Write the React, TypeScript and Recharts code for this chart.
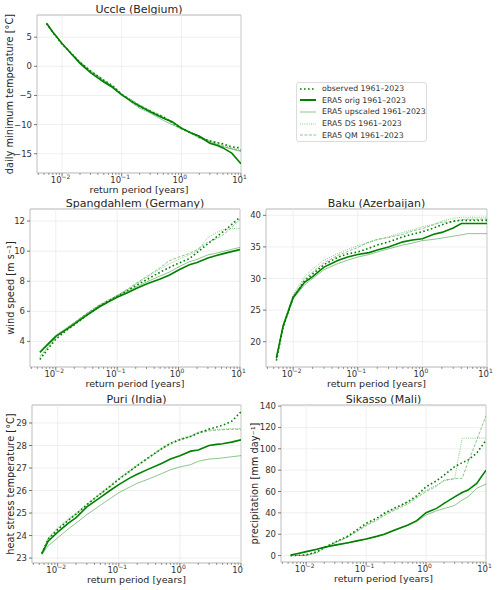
import {
  LineChart,
  Line,
  XAxis,
  YAxis,
  CartesianGrid,
  ReferenceLine,
  ReferenceArea,
} from "recharts";

// return periods [years] shared by every panel
const returnPeriods = [0.0055, 0.007, 0.01, 0.015, 0.02, 0.03, 0.05, 0.07, 0.1, 0.15, 0.2, 0.3, 0.5, 0.7, 1, 1.5, 2, 3, 4, 5, 7, 10];

// Uccle (Belgium) - daily minimum temperature
const uccleObserved = [7.3, 5.8, 3.8, 2.0, 0.7, -0.8, -2.4, -3.3, -4.8, -6.0, -6.9, -7.7, -8.7, -9.6, -10.6, -11.5, -12.2, -12.8, -13.1, -13.3, -13.8, -14.0];
const uccleOrig = [7.4, 5.9, 3.9, 1.9, 0.5, -1.1, -2.7, -3.6, -4.9, -6.1, -6.8, -7.8, -8.9, -9.5, -10.6, -11.5, -12.0, -13.2, -13.6, -14.0, -14.9, -16.7];
const uccleUpscaled = [7.4, 5.9, 3.9, 2.0, 0.6, -0.9, -2.5, -3.4, -4.8, -6.3, -7.2, -8.0, -9.3, -10.0, -10.7, -11.4, -11.9, -12.9, -13.4, -13.8, -14.2, -14.6];
const uccleDS = [7.3, 5.8, 3.8, 2.0, 0.8, -0.7, -2.3, -3.4, -4.7, -6.0, -7.0, -7.5, -8.6, -9.4, -10.5, -11.4, -12.1, -12.7, -13.1, -13.5, -14.0, -14.3];
const uccleQM = [7.3, 5.8, 3.9, 2.1, 0.7, -0.8, -2.4, -3.5, -4.8, -5.8, -6.6, -7.6, -8.8, -9.8, -10.8, -11.6, -12.3, -13.0, -13.4, -13.7, -14.1, -14.5];

// Spangdahlem (Germany) - wind speed
const spangObserved = [2.8, 3.35, 4.15, 4.75, 5.1, 5.65, 6.3, 6.65, 7.0, 7.4, 7.7, 8.1, 8.6, 8.9, 9.2, 9.5, 9.9, 10.5, 10.9, 11.2, 11.7, 12.25];
const spangOrig = [3.27, 3.7, 4.33, 4.8, 5.15, 5.67, 6.27, 6.6, 6.93, 7.25, 7.5, 7.82, 8.15, 8.4, 8.75, 9.1, 9.25, 9.55, 9.7, 9.8, 9.95, 10.1];
const spangUpscaled = [3.3, 3.75, 4.4, 4.9, 5.25, 5.75, 6.35, 6.65, 7.0, 7.35, 7.6, 7.95, 8.35, 8.6, 8.95, 9.3, 9.45, 9.75, 9.85, 9.95, 10.1, 10.25];
const spangDS = [2.9, 3.45, 4.25, 4.85, 5.2, 5.75, 6.4, 6.75, 7.05, 7.45, 7.8, 8.25, 8.8, 9.15, 9.45, 9.75, 10.0, 10.9, 11.2, 11.4, 11.5, 11.5];
const spangQM = [3.0, 3.5, 4.3, 4.85, 5.25, 5.8, 6.4, 6.7, 7.05, 7.5, 7.85, 8.3, 8.9, 9.35, 9.6, 9.85, 10.1, 10.6, 10.8, 11.0, 11.5, 12.1];

// Baku (Azerbaijan)
const bakuObserved = [17.0, 22.3, 27.0, 29.6, 30.7, 32.2, 33.4, 33.9, 34.2, 34.8, 35.3, 35.8, 36.6, 37.0, 37.4, 38.0, 38.5, 39.1, 39.2, 39.2, 39.2, 39.2];
const bakuOrig = [17.4, 22.5, 27.0, 29.4, 30.3, 31.8, 32.9, 33.4, 33.8, 34.1, 34.5, 35.0, 35.8, 36.1, 36.3, 37.0, 37.3, 38.0, 38.7, 38.7, 38.7, 38.7];
const bakuUpscaled = [17.6, 22.4, 26.8, 29.0, 30.0, 31.4, 32.4, 32.9, 33.4, 33.8, 34.2, 34.7, 35.3, 35.6, 36.0, 36.2, 36.4, 36.7, 36.9, 37.1, 37.1, 37.1];
const bakuDS = [17.3, 22.8, 27.5, 30.3, 31.5, 32.9, 34.0, 34.6, 35.2, 35.7, 36.1, 36.6, 37.3, 37.7, 38.2, 38.6, 39.1, 39.5, 39.7, 39.7, 39.7, 39.7];
const bakuQM = [17.3, 22.6, 27.2, 29.9, 31.0, 32.5, 33.7, 34.3, 34.9, 35.8, 36.2, 36.5, 37.0, 37.5, 37.9, 38.5, 38.9, 39.0, 39.3, 39.4, 39.4, 39.4];

// Puri (India) - heat stress temperature
const puriObserved = [23.2, 23.85, 24.26, 24.68, 24.95, 25.37, 25.85, 26.15, 26.5, 26.85, 27.1, 27.45, 27.85, 28.1, 28.26, 28.4, 28.55, 28.73, 28.82, 28.9, 29.07, 29.5];
const puriOrig = [23.2, 23.75, 24.15, 24.55, 24.8, 25.27, 25.7, 25.98, 26.26, 26.55, 26.72, 26.94, 27.2, 27.4, 27.55, 27.75, 27.8, 28.0, 28.05, 28.08, 28.15, 28.25];
const puriUpscaled = [23.15, 23.55, 23.9, 24.3, 24.55, 24.93, 25.35, 25.62, 25.9, 26.15, 26.32, 26.5, 26.75, 26.92, 27.05, 27.15, 27.3, 27.4, 27.42, 27.45, 27.5, 27.55];
const puriDS = [23.25, 23.9, 24.35, 24.75, 25.0, 25.4, 25.9, 26.2, 26.55, 26.9, 27.15, 27.45, 27.9, 28.1, 28.3, 28.45, 28.6, 28.7, 28.72, 28.73, 28.75, 28.75];
const puriQM = [23.2, 23.85, 24.3, 24.7, 24.95, 25.35, 25.85, 26.15, 26.5, 26.85, 27.1, 27.4, 27.85, 28.05, 28.25, 28.4, 28.55, 28.65, 28.68, 28.7, 28.72, 28.72];

// Sikasso (Mali) - precipitation
const sikassoObserved = [0, 0.2, 0.6, 3.5, 7.5, 12.5, 18.4, 24.0, 30.2, 35.0, 39.6, 44.5, 50.5, 56.0, 64.5, 70.0, 75.4, 83.2, 87.0, 89.4, 96.0, 108.0];
const sikassoOrig = [0.6, 1.8, 3.7, 5.9, 7.8, 9.8, 12.1, 13.8, 15.6, 18.0, 19.9, 24.0, 28.7, 32.7, 40.2, 44.2, 48.9, 55.0, 59.0, 61.4, 67.6, 80.0];
const sikassoUpscaled = [0.5, 1.6, 3.5, 5.7, 7.6, 9.6, 11.9, 13.6, 15.4, 17.8, 19.7, 23.5, 28.5, 32.0, 38.0, 42.0, 44.0, 47.0, 52.0, 55.0, 63.0, 67.0];
const sikassoDS = [0, 0.1, 0.2, 2.5, 6.5, 12.0, 17.5, 23.0, 28.7, 34.0, 38.5, 43.5, 50.0, 55.0, 61.4, 66.0, 70.0, 72.0, 110.0, 110.0, 110.0, 110.0];
const sikassoQM = [0, 0.1, 0.3, 3.0, 7.0, 12.0, 17.5, 22.5, 28.0, 33.0, 37.5, 42.5, 48.5, 54.0, 60.0, 65.0, 70.7, 72.0, 72.3, 87.0, 108.0, 131.0];

const X_MIN = 0.0038;
const X_MAX = 10;
const majorTicks = [0.01, 0.1, 1, 10];
const minorTicks: number[] = [];
[0.001, 0.01, 0.1, 1].forEach((d) => {
  for (let m = 2; m <= 9; m++) {
    const v = +(m * d).toPrecision(3);
    if (v >= X_MIN && v <= X_MAX) minorTicks.push(v);
  }
});

const GREEN = "#008000";
const FONT = '"DejaVu Sans", sans-serif';
const TEXT = "#262626";

const seriesStyles = [
  { key: "obs", name: "observed 1961–2023", width: 1.6, dash: "1.6 2.4", opacity: 1 },
  { key: "orig", name: "ERA5 orig 1961–2023", width: 1.6, dash: undefined, opacity: 1 },
  { key: "up", name: "ERA5 upscaled 1961–2023", width: 0.9, dash: undefined, opacity: 0.5 },
  { key: "ds", name: "ERA5 DS 1961–2023", width: 0.9, dash: "1 1.2", opacity: 0.5 },
  { key: "qm", name: "ERA5 QM 1961–2023", width: 0.9, dash: "3 1.5", opacity: 0.5 },
];

const panels = [
  {
    title: "Uccle (Belgium)", yLabel: "daily minimum temperature [°C]",
    series: [uccleObserved, uccleOrig, uccleUpscaled, uccleDS, uccleQM],
    yDomain: [-18.3, 8.8], yTicks: [-15, -10, -5, 0, 5],
    chartLeft: 0, plotLeft: 37, plotRight: 241, plotTop: 15, plotBottom: 173, rightPad: 9, labelOffset: 9.5,
  },
  {
    title: "Spangdahlem (Germany)", yLabel: "wind speed [m s⁻¹]",
    series: [spangObserved, spangOrig, spangUpscaled, spangDS, spangQM],
    yDomain: [2.3, 12.8], yTicks: [4, 6, 8, 10, 12],
    chartLeft: 0, plotLeft: 30, plotRight: 240, plotTop: 209, plotBottom: 367, rightPad: 10, labelOffset: 11,
  },
  {
    title: "Baku (Azerbaijan)", yLabel: "",
    series: [bakuObserved, bakuOrig, bakuUpscaled, bakuDS, bakuQM],
    yDomain: [16, 41], yTicks: [20, 25, 30, 35, 40],
    chartLeft: 249, plotLeft: 266, plotRight: 487, plotTop: 209, plotBottom: 367, rightPad: 13, labelOffset: 0,
  },
  {
    title: "Puri (India)", yLabel: "heat stress temperature [°C]",
    series: [puriObserved, puriOrig, puriUpscaled, puriDS, puriQM],
    yDomain: [22.78, 29.8], yTicks: [23, 24, 25, 26, 27, 28, 29],
    chartLeft: 0, plotLeft: 32, plotRight: 241, plotTop: 405, plotBottom: 563, rightPad: 3, labelOffset: 11,
  },
  {
    title: "Sikasso (Mali)", yLabel: "precipitation [mm day⁻¹]",
    series: [sikassoObserved, sikassoOrig, sikassoUpscaled, sikassoDS, sikassoQM],
    yDomain: [-6, 141], yTicks: [0, 20, 40, 60, 80, 100, 120, 140],
    chartLeft: 250, plotLeft: 281, plotRight: 486, plotTop: 405, plotBottom: 562, rightPad: 14, labelOffset: 5,
  },
];

function LogTick(props: any) {
  const { x, y, payload } = props;
  const lg = Math.log10(payload.value);
  const exp = Math.round(lg);
  if (Math.abs(lg - exp) > 1e-6) {
    return <line x1={x} x2={x} y1={y} y2={y + 2} stroke="#555" strokeWidth={0.6} />;
  }
  const sup = exp < 0 ? `−${-exp}` : `${exp}`;
  return (
    <g>
      <line x1={x} x2={x} y1={y} y2={y + 3.5} stroke="#555" strokeWidth={0.8} />
      <text x={x - 1.5} y={y + 9.5} textAnchor="middle" fontSize={8.5} fill="#333">
        10<tspan dy={-3.6} fontSize={6}>{sup}</tspan>
      </text>
    </g>
  );
}

function Panel({ cfg }: { cfg: (typeof panels)[number] }) {
  const data = returnPeriods.map((rp, i) => {
    const row: Record<string, number> = { rp };
    seriesStyles.forEach((s, k) => (row[s.key] = cfg.series[k][i]));
    return row;
  });
  const marginTop = 4;
  const xAxisH = 23;
  const yAxisW = cfg.plotLeft - cfg.chartLeft;
  const width = cfg.plotRight - cfg.chartLeft + cfg.rightPad;
  const height = marginTop + (cfg.plotBottom - cfg.plotTop) + xAxisH;

  return (
    <>
      <div
        style={{
          position: "absolute",
          left: cfg.plotLeft,
          width: cfg.plotRight - cfg.plotLeft,
          top: cfg.plotTop - 11.5,
          textAlign: "center",
          fontSize: 11,
          lineHeight: 1,
          color: TEXT,
        }}
      >
        {cfg.title}
      </div>
      <div style={{ position: "absolute", left: cfg.chartLeft, top: cfg.plotTop - marginTop }}>
        <LineChart
          width={width}
          height={height}
          data={data}
          margin={{ top: marginTop, right: cfg.rightPad, left: 0, bottom: 0 }}
        >
          <CartesianGrid vertical={false} stroke="#ebebeb" strokeWidth={0.8} />
          {majorTicks.map((t) => (
            <ReferenceLine key={t} x={t} stroke="#ebebeb" strokeWidth={0.8} />
          ))}
          <XAxis
            dataKey="rp"
            type="number"
            scale="log"
            domain={[X_MIN, X_MAX]}
            allowDataOverflow
            ticks={[...minorTicks, ...majorTicks]}
            interval={0}
            tick={<LogTick />}
            tickLine={false}
            axisLine={false}
            tickSize={0}
            tickMargin={0}
            height={xAxisH}
            label={{ value: "return period [years]", position: "insideBottom", offset: 3, fontSize: 9.5, fill: TEXT }}
          />
          <YAxis
            type="number"
            domain={cfg.yDomain}
            allowDataOverflow
            ticks={cfg.yTicks}
            interval={0}
            width={yAxisW}
            axisLine={false}
            tickSize={3}
            tickMargin={2}
            tickLine={{ stroke: "#555", strokeWidth: 0.8 }}
            tick={{ fontSize: 8.5, fill: "#333" }}
            tickFormatter={(v: number) => String(v).replace("-", "−")}
            label={
              cfg.yLabel
                ? {
                    value: cfg.yLabel,
                    angle: -90,
                    position: "insideLeft",
                    offset: cfg.labelOffset,
                    fontSize: 9.8,
                    fill: TEXT,
                    style: { textAnchor: "middle" },
                  }
                : undefined
            }
          />
          <ReferenceArea
            x1={X_MIN}
            x2={X_MAX}
            y1={cfg.yDomain[0]}
            y2={cfg.yDomain[1]}
            fill="none"
            stroke="#bdbdbd"
            strokeWidth={1}
          />
          {seriesStyles.map((s) => (
            <Line
              key={s.key}
              dataKey={s.key}
              type="linear"
              dot={false}
              stroke={GREEN}
              strokeOpacity={s.opacity}
              strokeWidth={s.width}
              strokeDasharray={s.dash}
              isAnimationActive={false}
            />
          ))}
        </LineChart>
      </div>
    </>
  );
}

function LegendBox() {
  return (
    <div
      style={{
        position: "absolute",
        left: 296,
        top: 82,
        width: 129,
        height: 58,
        border: "1px solid #dcdcdc",
        borderRadius: 3,
        background: "#fff",
        fontSize: 7.8,
        color: "#333",
      }}
    >
      {seriesStyles.map((s) => (
        <div key={s.key} style={{ display: "flex", alignItems: "center", height: 11.6 }}>
          <svg width={16} height={6} style={{ marginLeft: 3, marginRight: 6 }}>
            <line
              x1={0}
              x2={16}
              y1={3}
              y2={3}
              stroke={GREEN}
              strokeOpacity={s.opacity}
              strokeWidth={s.key === "orig" ? 2 : s.width}
              strokeDasharray={s.dash}
            />
          </svg>
          <span style={{ whiteSpace: "nowrap" }}>{s.name}</span>
        </div>
      ))}
    </div>
  );
}

export default function App() {
  return (
    <div
      style={{
        position: "absolute",
        left: 0,
        top: 0,
        width: 500,
        height: 590,
        background: "#fff",
        fontFamily: FONT,
        overflow: "hidden",
      }}
    >
      {panels.map((p) => (
        <Panel key={p.title} cfg={p} />
      ))}
      <LegendBox />
    </div>
  );
}
